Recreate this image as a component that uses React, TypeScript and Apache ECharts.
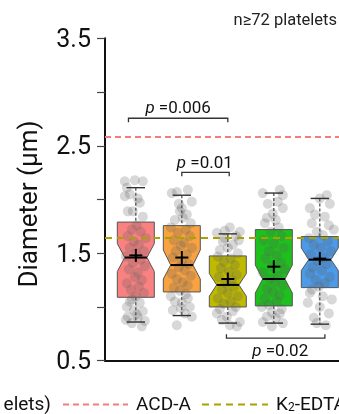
import React, { useEffect, useRef } from 'react';
import * as echarts from 'echarts';

// ---- data ----
const groups = ['G1', 'G2', 'G3', 'G4', 'G5'];
const boxColors = ['#F98181', '#F8A241', '#BFBA00', '#1EC01E', '#4C9AE8'];
const whiskerLow = [0.86, 0.92, 0.85, 0.85, 0.84];
const q1 = [1.09, 1.14, 1.0, 1.01, 1.18];
const median = [1.46, 1.39, 1.205, 1.26, 1.44];
const q3 = [1.79, 1.757, 1.475, 1.72, 1.655];
const whiskerHigh = [2.11, 2.04, 1.68, 2.06, 2.01];
const notchLow = [1.33, 1.26, 1.1, 1.13, 1.34];
const notchHigh = [1.59, 1.53, 1.31, 1.39, 1.55];
const means = [1.48, 1.46, 1.26, 1.375, 1.45];

const acdA = 2.585;
const k2edta = 1.64;

const yTickLabels = ['0.5', '1.5', '2.5', '3.5'];

// jittered points: [jitter step, value]
const JITTER_STEP = 1 / 46;
const pinkPoints = [
  [-11, 2.17], [-1, 2.18], [7, 2.17], [-9, 2.11], [-6, 2.05], [2, 2.01], [-11, 2.03], [4, 1.97], [-3, 1.89],
  [-8, 1.89], [7, 1.84], [1, 1.76], [-4, 1.72], [5, 1.7], [-8, 1.66], [10, 1.64], [-2, 1.61], [3, 1.58],
  [-6, 1.55], [8, 1.52], [0, 1.5], [-10, 1.47], [5, 1.44], [-3, 1.41], [9, 1.38], [-7, 1.35], [2, 1.32],
  [-1, 1.28], [6, 1.25], [-9, 1.22], [3, 1.19], [-5, 1.16], [8, 1.13], [0, 1.1], [-4, 1.07], [-6, 1.05],
  [4, 1.04], [-9, 1.0], [-2, 0.97], [7, 0.96], [-8, 0.91], [2, 0.9], [-4, 0.85], [6, 0.82], [-10, 0.88],
  [9, 0.87], [1, 0.93],
];
const orangePoints = [
  [-5, 2.07], [6, 2.09], [-10, 2.06], [10, 1.98], [0, 1.92], [-2, 1.89], [-7, 1.81], [1, 1.83], [9, 1.78],
  [-11, 1.74], [4, 1.72], [-4, 1.69], [8, 1.66], [-8, 1.62], [2, 1.6], [-1, 1.57], [10, 1.55], [-6, 1.52],
  [5, 1.49], [-9, 1.46], [0, 1.43], [7, 1.4], [-3, 1.37], [3, 1.34], [-10, 1.31], [9, 1.29], [-5, 1.26],
  [1, 1.23], [6, 1.2], [-8, 1.18], [-2, 1.15], [4, 1.12], [-7, 1.05], [0, 1.04], [-9, 0.97], [8, 1.0],
  [3, 0.94], [-5, 0.83], [10, 0.91], [-1, 0.99], [6, 1.08], [-11, 1.1], [-3, 1.96], [5, 1.86],
];
const olivePoints = [
  [2, 1.74], [12, 1.7], [-11, 1.69], [-3, 1.64], [5, 1.58], [-8, 1.53], [8, 1.66], [-5, 1.61], [0, 1.55],
  [10, 1.5], [-10, 1.47], [3, 1.45], [-4, 1.42], [7, 1.39], [-7, 1.36], [1, 1.33], [9, 1.3], [-9, 1.28],
  [4, 1.25], [-2, 1.22], [6, 1.19], [-6, 1.16], [0, 1.13], [10, 1.1], [-10, 1.08], [3, 1.05], [-4, 1.03],
  [8, 1.0], [-8, 0.98], [-11, 0.94], [5, 0.96], [12, 0.86], [2, 0.83], [-6, 0.88], [9, 0.82], [-1, 0.91],
  [-3, 1.71], [11, 1.62],
];
const greenPoints = [
  [-11, 2.06], [6, 2.09], [9, 2.04], [-6, 1.96], [4, 1.98], [9, 1.92], [-1, 1.87], [-7, 1.83], [2, 1.81],
  [-9, 1.78], [5, 1.74], [-3, 1.7], [8, 1.66], [-10, 1.62], [0, 1.59], [10, 1.55], [-5, 1.52], [3, 1.48],
  [-8, 1.45], [7, 1.41], [-2, 1.38], [11, 1.35], [-11, 1.32], [4, 1.29], [-4, 1.26], [1, 1.23], [9, 1.2],
  [-7, 1.17], [-1, 1.14], [6, 1.11], [-9, 1.08], [3, 1.05], [-5, 1.02], [8, 0.98], [-2, 0.95], [-7, 0.91],
  [2, 0.9], [9, 0.85], [-11, 0.86], [-2, 0.82], [6, 0.94], [-12, 1.0],
];
const bluePoints = [
  [-10, 1.92], [0, 2.01], [7, 2.04], [10, 1.96], [-5, 1.86], [5, 1.84], [14, 1.72], [-8, 1.78], [9, 1.76],
  [-3, 1.7], [3, 1.67], [-11, 1.64], [8, 1.61], [-6, 1.58], [1, 1.55], [11, 1.52], [-9, 1.49], [4, 1.46],
  [-2, 1.43], [7, 1.4], [-7, 1.37], [2, 1.34], [-10, 1.31], [10, 1.28], [-4, 1.25], [5, 1.22], [-1, 1.19],
  [-8, 1.16], [-10, 1.13], [9, 0.94], [0, 1.0], [-6, 0.9], [6, 0.83], [-3, 0.85], [12, 1.07], [-12, 1.04],
  [3, 1.1],
];
const groupPoints = [pinkPoints, orangePoints, olivePoints, greenPoints, bluePoints];

// significance brackets: [from, to, y, tick direction]
const bracketFrom = [-0.16, 1.0, 1.97];
const bracketTo = [2.0, 2.03, 4.11];
const bracketY = [2.756, 2.253, 0.71];
const bracketDir = [1, 1, -1];
const pLabels = ['0.006', '0.01', '0.02'];
const pLabelX = [0.92, 1.5, 3.14];
const pLabelY = [2.865, 2.345, 0.6];

const BOX_HALF = 0.402;
const NOTCH_INSET = 0.16;
const CAP_HALF = 0.2;

export default function App() {
  const ref = useRef<HTMLDivElement>(null);
  useEffect(() => {
    if (!ref.current) return;
    const chart = echarts.init(ref.current, null, { renderer: 'svg' });
    const boxData = groups.map((_, i) => [
      i, whiskerLow[i], q1[i], median[i], q3[i], whiskerHigh[i], notchLow[i], notchHigh[i], means[i],
    ]);
    const scatterData: number[][] = [];
    groupPoints.forEach((pts, i) => {
      pts.forEach(([j, v]) => scatterData.push([i + j * JITTER_STEP, v]));
    });
    const bracketData = bracketFrom.map((f, i) => [f, bracketTo[i], bracketY[i], bracketDir[i]]);
    const labelData = pLabels.map((p, i) => [pLabelX[i], pLabelY[i], i]);
    const font = 'Roboto';
    const dark = '#333';
    const legendY = 403.5;

    const option: any = {
      animation: false,
      grid: { left: 105, right: 0, top: 38.3, bottom: 53.3 },
      xAxis: {
        type: 'value', min: -0.67, max: 4.417,
        axisLine: { show: true, onZero: false, lineStyle: { color: '#111', width: 2 } },
        axisTick: { show: false }, axisLabel: { show: false }, splitLine: { show: false },
      },
      yAxis: {
        type: 'value', min: 0.5, max: 3.5, interval: 0.5,
        axisLine: { show: true, onZero: false, lineStyle: { color: '#111', width: 2 } },
        axisTick: { show: true, length: 8, lineStyle: { color: '#444', width: 1.2 } },
        axisLabel: {
          margin: 14, fontSize: 25, fontFamily: font, color: '#111',
          formatter: (v: number) => (yTickLabels.includes(v.toFixed(1)) ? v.toFixed(1) : ''),
        },
        splitLine: { show: false },
      },
      series: [
        {
          type: 'custom', z: 2, data: boxData, clip: false,
          renderItem: (params: any, api: any) => {
            const i = api.value(0);
            const unit = api.size([1, 0])[0];
            const hw = BOX_HALF * unit;
            const ins = NOTCH_INSET * unit;
            const [cx, yLo] = api.coord([i, api.value(1)]);
            const yQ1 = api.coord([i, api.value(2)])[1];
            const yMed = api.coord([i, api.value(3)])[1];
            const yQ3 = api.coord([i, api.value(4)])[1];
            const yHi = api.coord([i, api.value(5)])[1];
            const yNL = api.coord([i, api.value(6)])[1];
            const yNH = api.coord([i, api.value(7)])[1];
            const wl = { stroke: '#444', lineWidth: 1.2, lineDash: [3, 2] };
            return {
              type: 'group',
              children: [
                { type: 'line', shape: { x1: cx, y1: yHi, x2: cx, y2: yQ3 }, style: wl },
                { type: 'line', shape: { x1: cx, y1: yQ1, x2: cx, y2: yLo }, style: wl },
                {
                  type: 'polygon',
                  shape: {
                    points: [
                      [cx - hw, yQ3], [cx + hw, yQ3], [cx + hw, yNH], [cx + hw - ins, yMed], [cx + hw, yNL],
                      [cx + hw, yQ1], [cx - hw, yQ1], [cx - hw, yNL], [cx - hw + ins, yMed], [cx - hw, yNH],
                    ],
                  },
                  style: { fill: boxColors[i], stroke: '#555', lineWidth: 1 },
                },
              ],
            };
          },
        },
        {
          type: 'scatter', z: 3, data: scatterData, symbolSize: 10,
          itemStyle: { color: 'rgba(90,90,90,0.3)' },
          markLine: {
            silent: true, symbol: 'none', label: { show: false }, z: 5,
            data: [
              { yAxis: acdA, lineStyle: { color: '#F77B7B', type: [6, 4], width: 2 } },
              { yAxis: k2edta, lineStyle: { color: '#A9A200', type: [7, 5], width: 2 } },
            ],
          },
        },
        {
          type: 'custom', z: 4, data: boxData, clip: false,
          renderItem: (params: any, api: any) => {
            const i = api.value(0);
            const unit = api.size([1, 0])[0];
            const hw = BOX_HALF * unit;
            const ins = NOTCH_INSET * unit;
            const ch = CAP_HALF * unit;
            const [cx, yLo] = api.coord([i, api.value(1)]);
            const yMed = api.coord([i, api.value(3)])[1];
            const yHi = api.coord([i, api.value(5)])[1];
            const yMean = api.coord([i, api.value(8)])[1];
            const cap = { stroke: '#333', lineWidth: 1.4 };
            const k = { stroke: '#000', lineWidth: 2 };
            return {
              type: 'group',
              children: [
                { type: 'line', shape: { x1: cx - ch, y1: yHi, x2: cx + ch, y2: yHi }, style: cap },
                { type: 'line', shape: { x1: cx - ch, y1: yLo, x2: cx + ch, y2: yLo }, style: cap },
                { type: 'line', shape: { x1: cx - hw + ins, y1: yMed, x2: cx + hw - ins, y2: yMed }, style: k },
                { type: 'line', shape: { x1: cx - 6.5, y1: yMean, x2: cx + 6.5, y2: yMean }, style: k },
                { type: 'line', shape: { x1: cx, y1: yMean - 6.5, x2: cx, y2: yMean + 6.5 }, style: k },
              ],
            };
          },
        },
        {
          type: 'custom', z: 6, data: bracketData, clip: false,
          renderItem: (params: any, api: any) => {
            const [x1, y] = api.coord([api.value(0), api.value(2)]);
            const x2 = api.coord([api.value(1), api.value(2)])[0];
            const d = api.value(3) * 4;
            return {
              type: 'polyline',
              shape: { points: [[x1, y + d], [x1, y], [x2, y], [x2, y + d]] },
              style: { stroke: dark, lineWidth: 1.3, fill: null },
            };
          },
        },
        {
          type: 'custom', z: 6, data: labelData, clip: false,
          renderItem: (params: any, api: any) => {
            const [x, y] = api.coord([api.value(0), api.value(1)]);
            const idx = api.value(2);
            return {
              type: 'text',
              x, y,
              style: {
                text: '{i|p} =' + pLabels[idx],
                rich: { i: { fontStyle: 'italic', fontSize: 17, fontFamily: font, fill: '#111' } },
                fontSize: 17, fontFamily: font, fill: '#111',
                align: 'center', verticalAlign: 'middle',
              },
            };
          },
        },
      ],
      graphic: [
        {
          type: 'text', right: 2, top: 11,
          style: { text: 'n≥72 platelets', fontSize: 16.5, fontFamily: font, fill: '#222' },
        },
        {
          type: 'text', x: 28, y: 204, rotation: Math.PI / 2,
          style: {
            text: 'Diameter (μm)', fontSize: 26, fontFamily: font, fill: '#111',
            align: 'center', verticalAlign: 'middle',
          },
        },
        {
          type: 'text', x: 51, y: legendY,
          style: {
            text: 'elets)', fontSize: 19, lineHeight: 19, fontFamily: font, fill: '#111',
            align: 'right', verticalAlign: 'middle',
          },
        },
        {
          type: 'line', shape: { x1: 63, y1: legendY + 1, x2: 128, y2: legendY + 1 },
          style: { stroke: '#F77B7B', lineWidth: 2, lineDash: [6, 4] },
        },
        {
          type: 'text', x: 136, y: legendY,
          style: {
            text: 'ACD-A', fontSize: 19, lineHeight: 19, fontFamily: font, fill: '#111',
            align: 'left', verticalAlign: 'middle',
          },
        },
        {
          type: 'line', shape: { x1: 202, y1: legendY + 1, x2: 268, y2: legendY + 1 },
          style: { stroke: '#A9A200', lineWidth: 2, lineDash: [7, 5] },
        },
        {
          type: 'text', x: 276, y: legendY,
          style: {
            text: 'K{s|2}-EDTA', fontSize: 19, lineHeight: 19, fontFamily: font, fill: '#111',
            align: 'left', verticalAlign: 'middle',
            rich: { s: { fontSize: 12, lineHeight: 19, fontFamily: font, fill: '#111', padding: [7, 0, 0, 0] } },
          },
        },
      ],
    };
    chart.setOption(option);
    return () => chart.dispose();
  }, []);
  return <div ref={ref} style={{ position: 'fixed', left: 0, top: 0, width: 339, height: 414 }} />;
}
